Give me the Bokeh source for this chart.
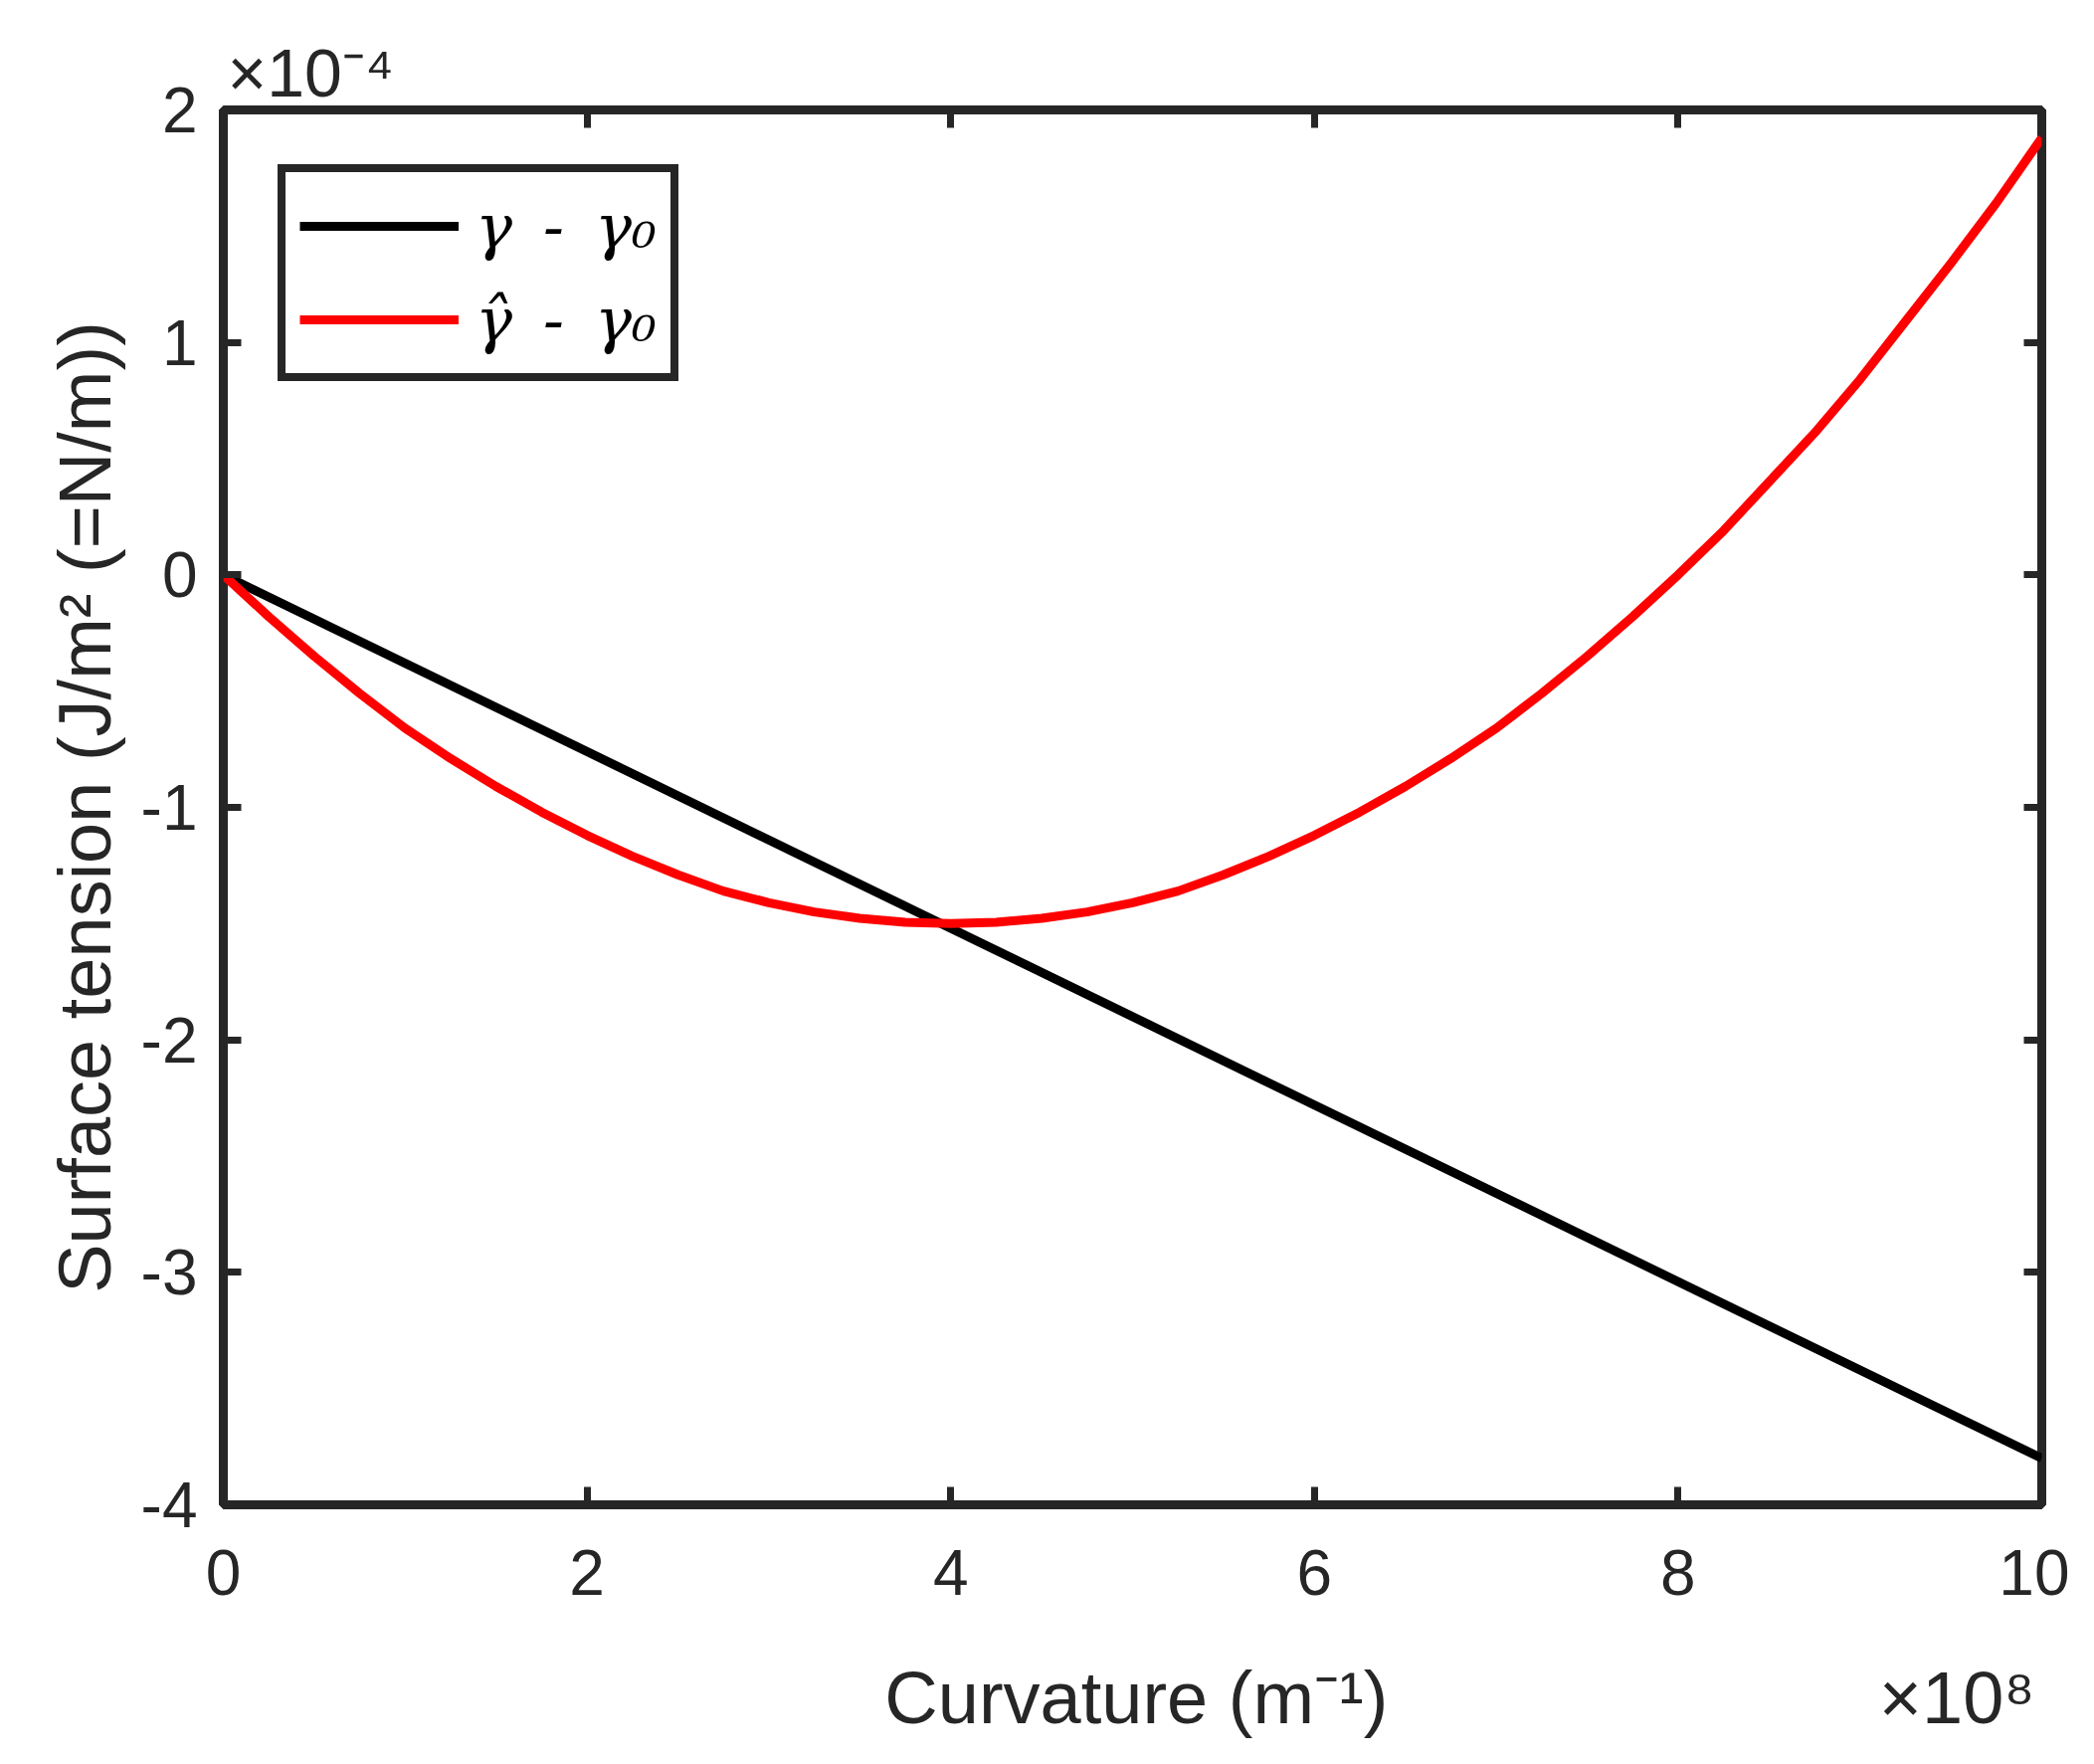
from bokeh.plotting import figure
from bokeh.models import (FixedTicker, LinearAxis, Legend, LegendItem, Title, Range1d,
                          CustomLabelingPolicy)
from bokeh.embed import file_html
from bokeh.resources import INLINE

# ---- data (x in units of 1e8 m^-1, y in units of 1e-4 N/m) ----
x_black = [0.0, 10.0]
y_black = [0.0, -3.8]

x_red = [0.0, 0.25, 0.5, 0.75, 1.0, 1.25, 1.5, 1.75, 2.0, 2.25, 2.5, 2.75, 3.0, 3.25,
         3.5, 3.75, 4.0, 4.25, 4.5, 4.75, 5.0, 5.25, 5.5, 5.75, 6.0, 6.25, 6.5, 6.75,
         7.0, 7.25, 7.5, 7.75, 8.0, 8.25, 8.5, 8.75, 9.0, 9.25, 9.5, 9.75, 10.0]
y_red = [0.0, -0.18, -0.35, -0.51, -0.66, -0.79, -0.91, -1.02, -1.12, -1.21, -1.29,
         -1.36, -1.41, -1.45, -1.477, -1.494, -1.50, -1.494, -1.477, -1.45, -1.41, -1.36,
         -1.29, -1.21, -1.12, -1.02, -0.91, -0.79, -0.66, -0.51, -0.35, -0.18, 0.0,
         0.19, 0.40, 0.61, 0.84, 1.09, 1.34, 1.60, 1.88]

x_ticks = [0, 2, 4, 6, 8, 10]
x_tick_labels = ["0", "2", "4", "6", "8", "10"]
y_ticks = [-4, -3, -2, -1, 0, 1, 2]
y_tick_labels = ["-4", "-3", "-2", "-1", "0", "1", "2"]

legend_labels = ["\u03b3\u2002-\u2002\u03b3\u2080", "\u03b3\u0302\u2002-\u2002\u03b3\u2080"]
x_label = "Curvature (m\u207b\u00b9)"
y_label = "Surface tension (J/m\u00b2 (=N/m))"
x_exp = "\u00d710\u2078"
y_exp = "\u00d710\u207b\u2074"

AX = "#262626"
FONT = "Liberation Sans"
NB = "\u00a0"

W, H = 2080, 1750
p = figure(width=W, height=H, output_backend="svg", toolbar_location=None,
           x_range=Range1d(0, 10), y_range=Range1d(-4, 2),
           min_border_left=224, min_border_right=28,
           min_border_top=110, min_border_bottom=232)
p.background_fill_color = "white"
p.border_fill_color = "white"
p.grid.visible = False
p.outline_line_color = AX
p.outline_line_width = 9
p.outline_line_alpha = 1.0

hide_labels = CustomLabelingPolicy(code="""
try { indices.clear(); }
catch (e) { try { for (const i of Array.from(indices)) indices.unset(i); } catch (e2) {} }
return indices;
""")

def style_axis(ax, show_labels):
    ax.axis_line_color = None
    ax.major_tick_in = 18
    ax.major_tick_out = 0
    ax.major_tick_line_width = 7
    ax.major_tick_line_color = AX
    ax.minor_tick_line_color = None
    ax.major_label_text_font = FONT
    ax.major_label_text_color = AX
    ax.major_label_text_font_size = "64px"
    ax.axis_label_text_font = FONT
    ax.axis_label_text_font_style = "normal"
    ax.axis_label_text_color = AX
    ax.axis_label_text_font_size = "74px"
    if not show_labels:
        ax.major_label_policy = hide_labels
        ax.major_label_text_font_size = "0px"

p.xaxis.ticker = FixedTicker(ticks=x_ticks)
p.yaxis.ticker = FixedTicker(ticks=y_ticks)
p.xaxis.major_label_overrides = {t: l for t, l in zip(x_ticks, x_tick_labels)}
p.yaxis.major_label_overrides = {t: l for t, l in zip(y_ticks, y_tick_labels)}
style_axis(p.xaxis[0], True)
style_axis(p.yaxis[0], True)
# x-axis label carries the x scale factor at its right end (same row as in the reference)
p.xaxis.axis_label = NB * 32 + x_label + NB * 24 + x_exp
p.yaxis.axis_label = y_label
p.xaxis.major_label_standoff = 45
p.yaxis.major_label_standoff = 26
p.xaxis.axis_label_standoff = 59
p.yaxis.axis_label_standoff = 12

top = LinearAxis(ticker=FixedTicker(ticks=x_ticks))
style_axis(top, False)
p.add_layout(top, "above")
right = LinearAxis(ticker=FixedTicker(ticks=y_ticks))
style_axis(right, False)
p.add_layout(right, "right")

p.add_layout(Title(text=y_exp, align="left", offset=4, standoff=0,
                   text_font=FONT, text_font_size="68px", text_font_style="normal",
                   text_color=AX), "above")

r_black = p.line(x_black, y_black, line_color="black", line_width=9)
r_red = p.line(x_red, y_red, line_color="#ff0000", line_width=9, line_join="round")

legend = Legend(items=[LegendItem(label=legend_labels[0], renderers=[r_black]),
                       LegendItem(label=legend_labels[1], renderers=[r_red])],
                location="top_left")
legend.margin = 55
legend.padding = 14
legend.spacing = 14
legend.glyph_width = 160
legend.glyph_height = 80
legend.label_height = 80
legend.label_standoff = 17
legend.label_text_font = "DejaVu Serif"
legend.label_text_font_style = "italic"
legend.label_text_font_size = "62px"
legend.label_text_color = "black"
legend.border_line_color = AX
legend.border_line_width = 8
legend.border_line_alpha = 1.0
legend.background_fill_alpha = 1.0
p.add_layout(legend, "center")

open("out.html", "w").write(file_html(p, INLINE))
